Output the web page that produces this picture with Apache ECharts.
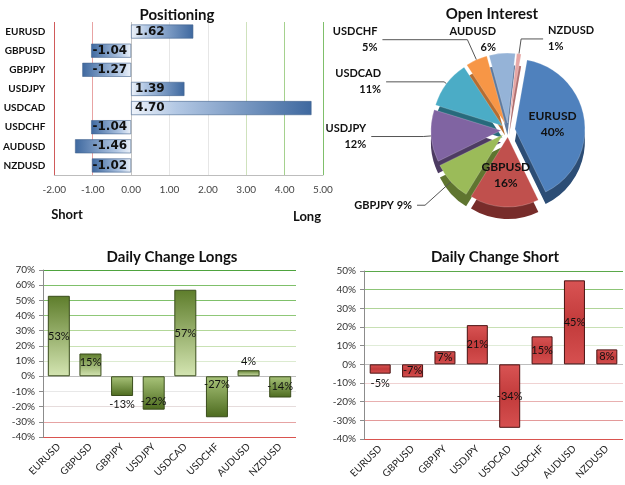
<!DOCTYPE html>
<html>
<head>
<meta charset="utf-8">
<script src="https://cdn.jsdelivr.net/npm/echarts@6/dist/echarts.min.js"></script>
<style>
  html, body { margin: 0; padding: 0; background: #fff; }
  #chart { width: 625px; height: 485px; }
</style>
</head>
<body>
<div id="chart"></div>
<script>
// data
const pairs = ['EURUSD', 'GBPUSD', 'GBPJPY', 'USDJPY', 'USDCAD', 'USDCHF', 'AUDUSD', 'NZDUSD'];
const positioning = [1.62, -1.04, -1.27, 1.39, 4.70, -1.04, -1.46, -1.02];
const openInterest = [40, 16, 9, 12, 11, 5, 6, 1];
const longsChange = [53, 15, -13, -22, 57, -27, 4, -14];
const shortChange = [-5, -7, 7, 21, -34, 15, 45, 8];

const chart = echarts.init(document.getElementById('chart'));

const titleFont = 'Lato, "Open Sans", sans-serif';
const bodyFont = 'Lato, "Open Sans", sans-serif';
const heavyFont = '"DejaVu Sans", sans-serif';

// pie colours (top face, side face)
const pieColors = ['#4f81bd', '#c0504d', '#9bbb59', '#8064a2', '#4bacc6', '#f79646', '#95b3d7', '#e6a6a5'];
const pieSides = ['#2c4d75', '#772c2a', '#5f7530', '#4d3b62', '#276a7c', '#b66d31', '#5d7a9f', '#b07070'];

// label placements (style only)
const longsLabelPos = ['inside', 'insideTop', 'bottom', 'insideBottom', 'inside', 'insideTop', 'top', 'inside'];
const shortLabelPos = ['bottom', 'inside', 'inside', 'inside', 'inside', 'inside', 'inside', 'inside'];
// leader line lengths per pie slice [radial, horizontal]; null = label inside
const pieLeaders = [null, null, [35, 8], [8, 52], [3, 58], [22, 85], [14, 0], [15, 22]];

const blueBar = (v) => new echarts.graphic.LinearGradient(0, 0, 1, 0, v >= 0
  ? [{ offset: 0, color: '#eef3fa' }, { offset: 0.25, color: '#b3c8e4' }, { offset: 1, color: '#3e689f' }]
  : [{ offset: 0, color: '#3e689f' }, { offset: 0.75, color: '#b3c8e4' }, { offset: 1, color: '#eef3fa' }]);

const greenBar = (v) => new echarts.graphic.LinearGradient(0, 0, 0, 1, v >= 0
  ? [{ offset: 0, color: '#5e7d2b' }, { offset: 1, color: '#d4e5b2' }]
  : [{ offset: 0, color: '#a9c47a' }, { offset: 1, color: '#4c6a1e' }]);

const redBar = () => new echarts.graphic.LinearGradient(0, 0, 0, 1, [
  { offset: 0, color: '#d95454' }, { offset: 0.5, color: '#c23b3b' }, { offset: 1, color: '#d65050' }
]);

const titleStyle = { fontFamily: titleFont, fontWeight: 'bold', fontSize: 15, color: '#111' };

const option = {
  animation: false,
  backgroundColor: '#fff',
  title: [
    { text: 'Positioning', left: 172, top: 3, textAlign: 'center', textStyle: titleStyle },
    { text: 'Open Interest', left: 487, top: 2, textAlign: 'center', textStyle: titleStyle },
    { text: 'Daily Change Longs', left: 167, top: 245, textAlign: 'center', textStyle: titleStyle },
    { text: 'Daily Change Short', left: 490, top: 245, textAlign: 'center', textStyle: titleStyle },
    { text: 'Short', left: 62, top: 203, textAlign: 'center', textStyle: { ...titleStyle, fontSize: 13 } },
    { text: 'Long', left: 302, top: 205, textAlign: 'center', textStyle: { ...titleStyle, fontSize: 13 } }
  ],
  grid: [
    { left: 53, top: 22, width: 270, height: 153 },
    { left: 43, top: 270, width: 253, height: 167 },
    { left: 364, top: 271, width: 259, height: 168 }
  ],
  xAxis: [
    {
      gridIndex: 0, type: 'value', min: -2, max: 5, interval: 1,
      axisLine: { show: true, onZero: false, lineStyle: { color: '#bdbdbd' } },
      axisTick: { show: false },
      axisLabel: { color: '#444', fontSize: 10, fontFamily: bodyFont, margin: 10, formatter: (v) => v.toFixed(2) },
      splitLine: {
        show: true,
        lineStyle: { width: 1, color: ['#d05a5a', '#e8a3a3', '#c4c4c4', '#e6e6e6', '#e6e6e6', '#cfe2bd', '#a5d18e', '#7fbf6a'] }
      }
    },
    {
      gridIndex: 1, type: 'category', data: pairs,
      axisLine: { show: false, onZero: false },
      axisTick: { show: false },
      axisLabel: { interval: 0, rotate: 45, fontSize: 10, color: '#222', fontFamily: bodyFont, margin: 8 }
    },
    {
      gridIndex: 2, type: 'category', data: pairs,
      axisLine: { show: false, onZero: false },
      axisTick: { show: false },
      axisLabel: { interval: 0, rotate: 45, fontSize: 10, color: '#222', fontFamily: bodyFont, margin: 8 }
    }
  ],
  yAxis: [
    {
      gridIndex: 0, type: 'category', data: pairs, inverse: true,
      axisLine: { show: false },
      axisTick: { show: false },
      axisLabel: { fontSize: 10, fontWeight: 'bold', color: '#111', fontFamily: bodyFont, margin: 9 }
    },
    {
      gridIndex: 1, type: 'value', min: -40, max: 70, interval: 10,
      axisLine: { show: true, lineStyle: { color: '#8c8c8c' } },
      axisTick: { show: true, length: 4, lineStyle: { color: '#8c8c8c' } },
      axisLabel: { formatter: '{value}%', fontSize: 10, color: '#333', fontFamily: bodyFont, margin: 8 },
      splitLine: {
        lineStyle: { color: ['#d9534f', '#e6a3a3', '#e6dcdc', '#e8e8e8', '#bdbdbd', '#dcebd0', '#c9e2b4', '#b2d798', '#8fc878', '#7fc06a', '#7fc06a', '#4ea33e'] }
      }
    },
    {
      gridIndex: 2, type: 'value', min: -40, max: 50, interval: 10,
      axisLine: { show: true, lineStyle: { color: '#8c8c8c' } },
      axisTick: { show: true, length: 4, lineStyle: { color: '#8c8c8c' } },
      axisLabel: { formatter: '{value}%', fontSize: 10, color: '#333', fontFamily: bodyFont, margin: 8 },
      splitLine: {
        lineStyle: { color: ['#d9534f', '#e39a9a', '#e8b0b0', '#f0d2d2', '#bdbdbd', '#e0ecd8', '#c8e0b4', '#b0d498', '#8cc476', '#5aa84a'] }
      }
    }
  ],
  series: [
    {
      name: 'Positioning', type: 'bar', xAxisIndex: 0, yAxisIndex: 0, barWidth: 14,
      data: positioning.map((v) => ({
        value: v,
        itemStyle: { color: blueBar(v), borderColor: '#45648f', borderWidth: 0.6 },
        label: { position: v >= 0 ? 'insideLeft' : 'insideRight' }
      })),
      label: {
        show: true, fontSize: 12, fontWeight: 'bold', color: '#111', fontFamily: heavyFont, distance: 4,
        formatter: (p) => p.value.toFixed(2)
      }
    },
    {
      name: 'Daily Change Longs', type: 'bar', xAxisIndex: 1, yAxisIndex: 1, barWidth: 22,
      data: longsChange.map((v, i) => ({
        value: v,
        itemStyle: { color: greenBar(v), borderColor: '#3a4d1c', borderWidth: 1 },
        label: { position: longsLabelPos[i] }
      })),
      label: { show: true, fontSize: 11, color: '#111', fontFamily: bodyFont, distance: 3, formatter: (p) => p.value + '%' }
    },
    {
      name: 'Daily Change Short', type: 'bar', xAxisIndex: 2, yAxisIndex: 2, barWidth: 21,
      data: shortChange.map((v, i) => ({
        value: v,
        itemStyle: { color: redBar(), borderColor: '#4a1212', borderWidth: 1 },
        label: { position: shortLabelPos[i] }
      })),
      label: { show: true, fontSize: 11, color: '#111', fontFamily: bodyFont, distance: 4, formatter: (p) => p.value + '%' }
    },
    {
      // side face of the "3D" pie
      name: 'Open Interest side', type: 'pie', center: [508, 142], radius: 70, startAngle: 80,
      selectedMode: 'multiple', selectedOffset: 7, silent: true, z: 1,
      label: { show: false }, labelLine: { show: false },
      data: openInterest.map((v, i) => ({ value: v, name: pairs[i], selected: true, itemStyle: { color: pieSides[i] } }))
    },
    {
      name: 'Open Interest', type: 'pie', center: [508, 130], radius: 70, startAngle: 80,
      selectedMode: 'multiple', selectedOffset: 7, z: 2,
      avoidLabelOverlap: false,
      itemStyle: { borderColor: 'rgba(255,255,255,0.4)', borderWidth: 0.5 },
      label: {
        show: true, fontSize: 11, fontWeight: 'bold', color: '#111', fontFamily: bodyFont, lineHeight: 16,
        formatter: '{b}\n{d}%'
      },
      labelLine: { show: true, lineStyle: { color: '#555', width: 1 } },
      data: openInterest.map((v, i) => {
        const item = { value: v, name: pairs[i], selected: true, itemStyle: { color: pieColors[i] } };
        const leader = pieLeaders[i];
        if (!leader) {
          item.label = { position: 'inside', fontSize: 12 };
        } else {
          item.labelLine = { length: leader[0], length2: leader[1], show: leader[1] > 0 };
          if (pairs[i] === 'GBPJPY') item.label = { formatter: '{b} {d}%' };
        }
        return item;
      })
    }
  ]
};

chart.setOption(option);
</script>
</body>
</html>
